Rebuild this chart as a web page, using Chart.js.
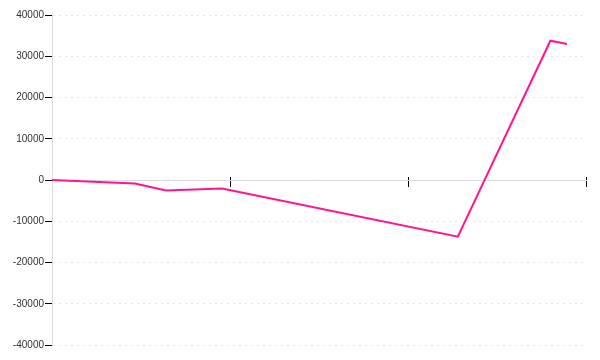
<!DOCTYPE html>
<html>
<head>
<meta charset="utf-8">
<script src="https://cdn.jsdelivr.net/npm/chart.js@4/dist/chart.umd.min.js"></script>
<style>
  html, body { margin: 0; padding: 0; background: #fff; }
  #wrap { width: 600px; height: 360px; }
</style>
</head>
<body>
<div id="wrap"><canvas id="c"></canvas></div>
<script>
// Data
const xValues = [0, 0.466, 0.64, 0.955, 2.28, 2.80, 2.893];
const yValues = [0, -850, -2550, -2060, -13750, 33770, 32970];
const yTicks = [-40000, -30000, -20000, -10000, 0, 10000, 20000, 30000, 40000];
const xTicks = [0, 1, 2, 3];

const points = xValues.map((x, i) => ({ x: x, y: yValues[i] }));

const xCommon = {
  type: 'linear',
  min: xTicks[0],
  max: xTicks[xTicks.length - 1],
  position: { y: 0 },
  afterBuildTicks: (s) => { s.ticks = xTicks.map(v => ({ value: v })); },
  ticks: { display: false }
};

new Chart(document.getElementById('c'), {
  type: 'line',
  data: {
    datasets: [{
      data: points,
      borderColor: '#ff1493',
      borderWidth: 2,
      pointRadius: 0,
      tension: 0,
      fill: false
    }]
  },
  options: {
    responsive: true,
    maintainAspectRatio: false,
    animation: false,
    layout: { padding: { top: 15, bottom: 15, right: 14, left: 0 } },
    plugins: { legend: { display: false }, tooltip: { enabled: false } },
    scales: {
      y: {
        type: 'linear',
        min: yTicks[0],
        max: yTicks[yTicks.length - 1],
        afterBuildTicks: (s) => { s.ticks = yTicks.map(v => ({ value: v })); },
        afterFit: (s) => { s.width = 52; },
        grid: {
          color: (ctx) => ctx.tick && ctx.tick.value === 0 ? 'rgba(0,0,0,0)' : '#e6e6e6',
          tickColor: '#000',
          tickLength: 7,
          tickBorderDash: [],
          lineWidth: 1
        },
        border: { display: true, color: '#dddddd', width: 1, dash: [2, 4] },
        ticks: {
          padding: 1,
          color: '#333',
          font: { family: '"Liberation Sans", Arial, sans-serif', size: 10 },
          callback: (v) => String(v)
        }
      },
      x: Object.assign({}, xCommon, {
        grid: { drawOnChartArea: false, tickColor: '#000', tickLength: 6, tickWidth: 1 },
        border: { display: true, color: '#dddddd', width: 1 }
      }),
      x2: Object.assign({}, xCommon, {
        grid: { drawOnChartArea: false, tickColor: '#000', tickLength: -3, tickWidth: 1 },
        border: { display: false }
      })
    }
  }
});
</script>
</body>
</html>
